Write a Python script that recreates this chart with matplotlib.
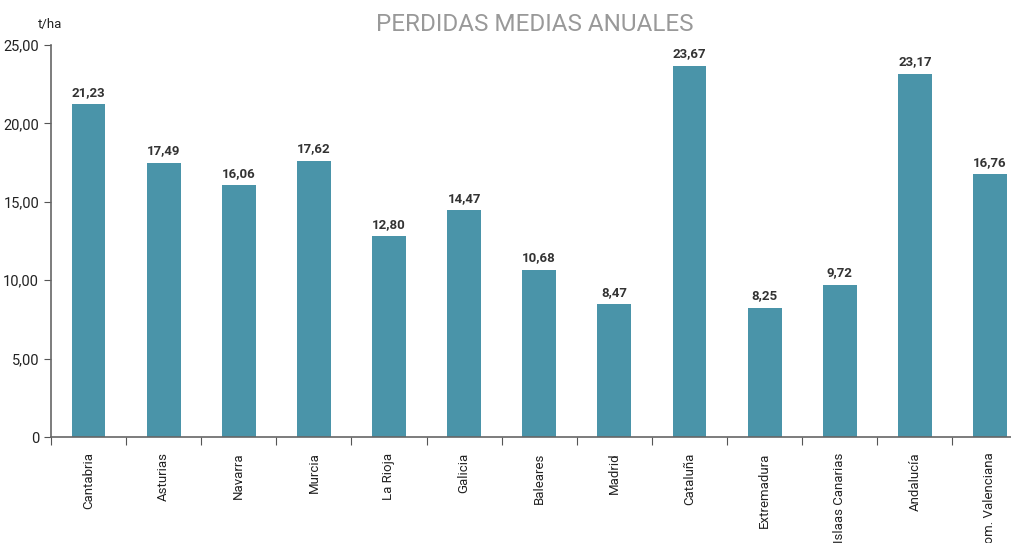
import matplotlib.pyplot as plt
import numpy as np

regiones = ["Cantabria", "Asturias", "Navarra", "Murcia", "La Rioja", "Galicia",
            "Baleares", "Madrid", "Cataluña", "Extremadura", "Islaas Canarias",
            "Andalucía", "Com. Valenciana"]
perdidas = [21.23, 17.49, 16.06, 17.62, 12.80, 14.47, 10.68, 8.47, 23.67,
            8.25, 9.72, 23.17, 16.76]
yticks = [0, 5, 10, 15, 20, 25]
ytick_labels = ["0", "5,00", "10,00", "15,00", "20,00", "25,00"]

plt.rcParams['font.family'] = ['Roboto', 'DejaVu Sans']

fig = plt.figure(figsize=(10.11, 5.43), dpi=100)
ax = fig.add_axes([0.0504, 0.195, 0.9496, 0.722])

x = np.arange(len(regiones))
ax.bar(x, perdidas, width=0.45, color="#4A94A9")

for xi, v in zip(x, perdidas):
    ax.text(xi, v + 0.35, f"{v:.2f}".replace(".", ","), ha="center", va="bottom",
            fontsize=9.5, fontweight="bold", color="#333333")

ax.set_xlim(-0.5, 12.28)
ax.set_ylim(0, 25)
ax.set_yticks(yticks)
ax.set_yticklabels(ytick_labels, fontsize=10.5, color="#222222")
ax.set_xticks(x - 0.5, minor=False)
ax.set_xticklabels([])
ax.set_xticks(x, minor=True)
ax.set_xticklabels(regiones, minor=True, rotation=90, fontsize=9.5, color="#222222")
ax.tick_params(axis="x", which="minor", length=0, pad=11)
ax.tick_params(axis="x", which="major", length=6, color="#555555")
ax.tick_params(axis="y", length=5, color="#555555")

for s in ["top", "right"]:
    ax.spines[s].set_visible(False)
for s in ["left", "bottom"]:
    ax.spines[s].set_color("#666666")
    ax.spines[s].set_linewidth(1.2)

fig.text(0.037, 0.955, "t/ha", fontsize=9.5, color="#222222", va="center")
fig.text(0.529, 0.955, "PERDIDAS MEDIAS ANUALES", fontsize=17.5, color="#999999",
         ha="center", va="center")

fig.savefig("out.png", dpi=100)
